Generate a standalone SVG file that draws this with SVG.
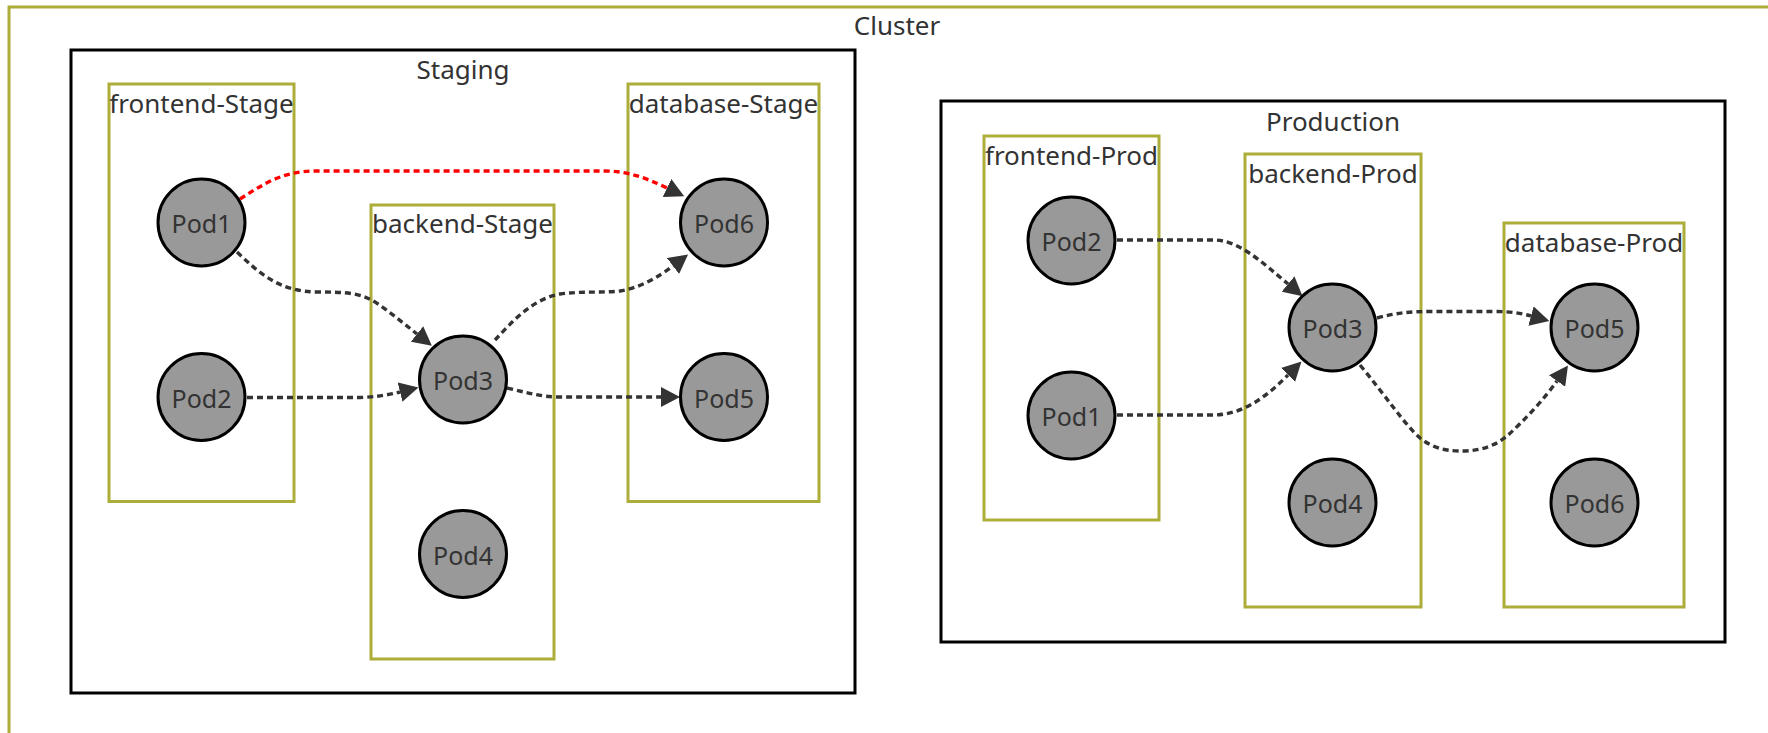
<svg xmlns="http://www.w3.org/2000/svg" width="1768" height="733" viewBox="0 0 1768 733">
  <style>
    .env { fill: none; stroke: #000; stroke-width: 3; }
    .tier { fill: none; stroke: #adad3a; stroke-width: 3; }
    .clabel { font-family: "Noto Sans", "Open Sans", sans-serif; font-size: 26px; fill: #333; text-anchor: middle; }
    .pod circle { fill: #999; stroke: #000; stroke-width: 3; }
    .pod text { font-family: "Noto Sans", "Open Sans", sans-serif; font-size: 25px; fill: #333; text-anchor: middle; }
    .edge { fill: none; stroke: #333; stroke-width: 3.4; stroke-dasharray: 6 4; marker-end: url(#arrow); }
    .edge.alert { stroke: #ff0000; }
  </style>
  <defs>
    <marker id="arrow" markerWidth="20" markerHeight="20" refX="0" refY="10" orient="auto" markerUnits="userSpaceOnUse">
      <path d="M0,0 L19,10 L0,20 Z" fill="#333"/>
    </marker>
  </defs>

  <rect width="1768" height="733" fill="#fff"/>

  <!-- outer cluster -->
  <g id="cluster">
    <rect class="tier" x="9" y="7" width="1775" height="760"/>
    <text class="clabel" x="897" y="35">Cluster</text>
  </g>

  <!-- staging environment -->
  <g id="staging">
    <rect class="env" x="71" y="50" width="784" height="643"/>
    <text class="clabel" x="463" y="79">Staging</text>
    <g id="frontend-stage">
      <rect class="tier" x="109" y="84" width="185" height="417.5"/>
      <text class="clabel" x="201.5" y="113">frontend-Stage</text>
    </g>
    <g id="backend-stage">
      <rect class="tier" x="371" y="205" width="183" height="454"/>
      <text class="clabel" x="462.5" y="233">backend-Stage</text>
    </g>
    <g id="database-stage">
      <rect class="tier" x="628" y="84" width="191" height="417.5"/>
      <text class="clabel" x="723.5" y="113">database-Stage</text>
    </g>
  </g>

  <!-- production environment -->
  <g id="production">
    <rect class="env" x="941" y="101" width="784" height="541"/>
    <text class="clabel" x="1333" y="130.5">Production</text>
    <g id="frontend-prod">
      <rect class="tier" x="984" y="136" width="175" height="384"/>
      <text class="clabel" x="1071.5" y="165">frontend-Prod</text>
    </g>
    <g id="backend-prod">
      <rect class="tier" x="1245" y="154" width="176" height="453"/>
      <text class="clabel" x="1333" y="183">backend-Prod</text>
    </g>
    <g id="database-prod">
      <rect class="tier" x="1504" y="223" width="180" height="384"/>
      <text class="clabel" x="1594" y="252">database-Prod</text>
    </g>
  </g>

  <!-- connectors -->
  <g id="connectors">
    <path class="edge alert" d="M240,199 C262,185 282,171 315,171 L605,171 C628,171 646,178 667,188"/>
    <path class="edge" d="M237,252 C260,274 280,292 318,292 C348,292 362,293 378,304 C391,313 402,322 417,334"/>
    <path class="edge" d="M247,397.5 L360,397.5 C375,397 388,395 400,392"/>
    <path class="edge" d="M495,340 C512,322 532,299 560,294 C582,291 600,293 620,291 C640,288 660,276 673,266"/>
    <path class="edge" d="M507,388 C525,392 540,397 560,397 L661,397"/>

    <path class="edge" d="M1117,240 L1215,240 C1240,241 1263,263 1288,284"/>
    <path class="edge" d="M1117,415 L1215,415 C1245,414 1268,395 1288,375"/>
    <path class="edge" d="M1377,318 C1395,313 1410,311.5 1430,311.5 L1495,311.5 C1510,311.5 1520,313 1531,316"/>
    <path class="edge" d="M1360,365 C1385,395 1405,425 1420,438 C1435,450 1450,451 1462,451 C1480,451 1495,446 1507,436 C1525,420 1545,398 1557,381"/>
  </g>

  <!-- staging pods -->
  <g id="stage-pod1" class="pod"><circle cx="201.5" cy="222.5" r="43.5"/><text x="201.5" y="233">Pod1</text></g>
  <g id="stage-pod2" class="pod"><circle cx="201.5" cy="397" r="43.5"/><text x="201.5" y="407.5">Pod2</text></g>
  <g id="stage-pod3" class="pod"><circle cx="463" cy="379.5" r="43.5"/><text x="463" y="390">Pod3</text></g>
  <g id="stage-pod4" class="pod"><circle cx="463" cy="554" r="43.5"/><text x="463" y="564.5">Pod4</text></g>
  <g id="stage-pod5" class="pod"><circle cx="724" cy="397" r="43.5"/><text x="724" y="407.5">Pod5</text></g>
  <g id="stage-pod6" class="pod"><circle cx="724" cy="222.5" r="43.5"/><text x="724" y="233">Pod6</text></g>

  <!-- production pods -->
  <g id="prod-pod1" class="pod"><circle cx="1071.5" cy="415.5" r="43.5"/><text x="1071.5" y="426">Pod1</text></g>
  <g id="prod-pod2" class="pod"><circle cx="1071.5" cy="240.5" r="43.5"/><text x="1071.5" y="251">Pod2</text></g>
  <g id="prod-pod3" class="pod"><circle cx="1332.5" cy="327.5" r="43.5"/><text x="1332.5" y="338">Pod3</text></g>
  <g id="prod-pod4" class="pod"><circle cx="1332.5" cy="502.5" r="43.5"/><text x="1332.5" y="513">Pod4</text></g>
  <g id="prod-pod5" class="pod"><circle cx="1594.5" cy="327.5" r="43.5"/><text x="1594.5" y="338">Pod5</text></g>
  <g id="prod-pod6" class="pod"><circle cx="1594.5" cy="502.5" r="43.5"/><text x="1594.5" y="513">Pod6</text></g>
</svg>
